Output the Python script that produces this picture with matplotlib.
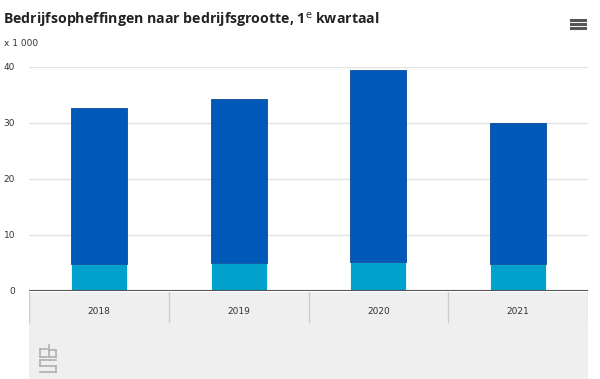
import matplotlib
matplotlib.use("Agg")
import matplotlib.pyplot as plt
from matplotlib.lines import Line2D

years = ["2018", "2019", "2020", "2021"]
small = [4.8, 5.0, 5.2, 4.8]
large = [27.8, 29.3, 34.3, 25.2]
yticks = [0, 10, 20, 30, 40]

W, H = 600, 379
fig = plt.figure(figsize=(6, 3.79), dpi=100)
fig.patch.set_facecolor("white")

L, R, B, T = 29, 588, 291, 67
ax = fig.add_axes([L / W, 1 - B / H, (R - L) / W, (B - T) / H])
ax.set_xlim(-0.5, len(years) - 0.5)
ax.set_ylim(0, 40)
x = range(len(years))
ax.bar(x, small, width=0.4, color="#00a1cd", edgecolor="white", linewidth=0.6, zorder=3)
ax.bar(x, large, bottom=small, width=0.4, color="#0058b8", edgecolor="#0a4a9a", linewidth=0.6, zorder=3)
for s in ax.spines.values():
    s.set_visible(False)
ax.set_yticks(yticks)
ax.set_yticklabels([])
ax.set_xticks([])
for v in yticks[1:]:
    ax.axhline(v, color="#e3e3e3", lw=1, zorder=1)
ax.axhline(0, color="#555555", lw=1.5, zorder=4)
ax.tick_params(length=0)

for v in yticks:
    ypx = B - (B - T) * v / 40
    fig.text(15 / W, 1 - ypx / H, str(v), ha="right", va="center", fontsize=6.5,
             color="#333333", family="DejaVu Sans")

gax = fig.add_axes([L / W, 0, (R - L) / W, (H - B - 1) / H])
gax.set_xlim(-0.5, len(years) - 0.5)
gax.set_ylim(0, H - B - 1)
gax.set_facecolor("#efefef")
for s in gax.spines.values():
    s.set_visible(False)
gax.set_xticks([])
gax.set_yticks([])
top = H - B - 1
for i in range(len(years) + 1):
    gax.plot([i - 0.5, i - 0.5], [top, top - 30], color="#cccccc", lw=1)
for i, yr in enumerate(years):
    gax.text(i, top - 19, yr, ha="center", va="center", fontsize=6.5, color="#333333")

lc = "#b0b0b0"
lx, ly = 40, 345
def seg(x0, y0, x1, y1):
    fig.add_artist(Line2D([x0 / W, x1 / W], [1 - y0 / H, 1 - y1 / H], color=lc, lw=1.2))
seg(lx, ly + 4, lx + 7, ly + 4); seg(lx, ly + 4, lx, ly + 12); seg(lx, ly + 12, lx + 7, ly + 12)
seg(lx + 9, ly, lx + 9, ly + 12); seg(lx + 9, ly + 12, lx + 16, ly + 12); seg(lx + 16, ly + 12, lx + 16, ly + 5); seg(lx + 9, ly + 5, lx + 16, ly + 5)
seg(lx + 16, ly + 15, lx, ly + 15); seg(lx, ly + 15, lx, ly + 21); seg(lx, ly + 21, lx + 16, ly + 21)
seg(lx + 16, ly + 21, lx + 16, ly + 27); seg(lx + 16, ly + 27, lx, ly + 27)

fig.text(3 / W, 1 - 20 / H, "Bedrijfsopheffingen naar bedrijfsgrootte, 1$^{\\mathrm{e}}$ kwartaal",
         ha="left", va="center", fontsize=10.2, fontweight="bold", color="#222222",
         family="Open Sans")
fig.text(4 / W, 1 - 44 / H, "x 1 000", ha="left", va="center", fontsize=6.5, color="#333333")

for dy in (-4, 0, 4):
    fig.add_artist(Line2D([571 / W, 585 / W], [1 - (24 + dy) / H] * 2, color="#555555", lw=2.2))

fig.savefig("out.png", dpi=100)
